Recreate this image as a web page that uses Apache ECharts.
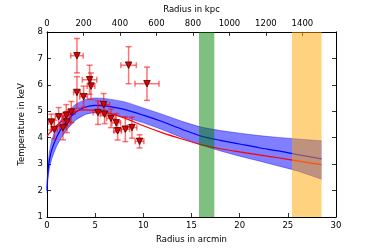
<!DOCTYPE html>
<html><head><meta charset="utf-8">
<script src="https://cdn.jsdelivr.net/npm/echarts@6/dist/echarts.min.js"></script>
<style>html,body{margin:0;padding:0;background:#fff}#c{width:374px;height:249px}</style>
</head><body><div id="c"></div>
<script>
// data points (arcmin, keV) with errors
const ptR    = [0.45,0.76,1.21,1.66,2.0,2.07,2.52,3.11,3.11,3.80,4.42,4.57,5.29,5.88,5.98,6.64,7.19,7.33,8.13,8.82,8.47,9.61,10.38];
const ptT    = [4.59,4.31,4.79,4.37,4.85,4.59,4.97,7.10,5.71,5.55,6.19,5.95,4.95,5.25,4.89,4.73,4.56,4.26,4.32,4.38,6.74,3.86,6.04];
const ptRErr = [0.3,0.3,0.35,0.35,0.35,0.35,0.4,0.65,0.35,0.4,0.75,0.4,0.5,0.6,0.45,0.45,0.45,0.4,0.45,0.5,0.8,0.45,1.25];
const ptTErr = [0.3,0.35,0.35,0.45,0.4,0.4,0.4,0.65,0.6,0.4,0.55,0.5,0.45,0.42,0.36,0.35,0.35,0.35,0.47,0.4,0.7,0.25,0.63];
// model curves
const modelR = [0,0.1,0.25,0.5,1,1.5,2,3,4,5,6,8,10,12,14,16,18,20,22,24,26,28.5];
const blueT  = [2.0,2.7,3.15,3.55,4.02,4.35,4.6,4.97,5.16,5.22,5.2,5.07,4.85,4.6,4.32,4.06,3.9,3.76,3.62,3.5,3.36,3.20];
const bandHi = [2.1,2.95,3.45,3.92,4.38,4.7,4.92,5.27,5.44,5.5,5.48,5.36,5.12,4.88,4.62,4.4,4.27,4.17,4.08,4.01,3.95,3.88];
const bandLo = [1.9,2.45,2.85,3.2,3.68,4.0,4.28,4.67,4.88,4.95,4.93,4.78,4.56,4.3,4.0,3.72,3.5,3.3,3.12,2.93,2.74,2.43];
const redT   = [4.05,4.1,4.17,4.27,4.45,4.62,4.78,5.0,5.05,5.03,4.97,4.75,4.45,4.18,3.95,3.74,3.58,3.46,3.35,3.24,3.12,2.98];
// vertical spans (arcmin)
const spanGreen = [15.78, 17.37];
const spanOrange = [25.43, 28.5];
// axes
const kpcPerArcmin = 52.8;
const xMax = 30, yMin = 1, yMax = 8;

const F = 'DejaVu Sans', FS = 8.5;
const pair = (xs, ys) => xs.map((x,i)=>[x, ys[i]]);
const errData = ptR.map((r,i)=>[r, ptT[i], ptRErr[i], ptTErr[i]]);
const bandData = modelR.map((r,i)=>[r, bandLo[i], bandHi[i]]);

const chart = echarts.init(document.getElementById('c'), null, {renderer:'canvas'});
const axisCommon = {
  axisLine:{show:true, onZero:false, lineStyle:{color:'#000', width:1}},
  axisTick:{show:true, inside:true, length:4, lineStyle:{color:'#000', width:0.8}},
  splitLine:{show:false},
  axisLabel:{color:'#000', fontFamily:F, fontSize:FS, margin:4},
  nameTextStyle:{color:'#000', fontFamily:F, fontSize:FS}
};
const errStyle = {stroke:'rgba(255,0,0,0.55)', lineWidth:1.5};
chart.setOption({
  animation:false,
  grid:{left:47, right:38, top:24, bottom:32},
  xAxis:[
    Object.assign({}, axisCommon, {type:'value', min:0, max:xMax, interval:5, position:'bottom',
      name:'Radius in arcmin', nameLocation:'middle', nameGap:15}),
    Object.assign({}, axisCommon, {type:'value', min:0, max:xMax*kpcPerArcmin, interval:200, position:'top',
      name:'Radius in kpc', nameLocation:'middle', nameGap:14,
      axisLabel:Object.assign({}, axisCommon.axisLabel, {formatter:v=> (Math.abs(v/200-Math.round(v/200))<1e-6)? String(v):''})})
  ],
  yAxis:[
    Object.assign({}, axisCommon, {type:'value', min:yMin, max:yMax, interval:1, position:'left',
      name:'Temperature in keV', nameLocation:'middle', nameGap:12}),
    Object.assign({}, axisCommon, {type:'value', min:yMin, max:yMax, interval:1, position:'right',
      axisLabel:{show:false}})
  ],
  series:[
    {type:'custom', data:[0], z:1, clip:true,
      renderItem:(params, api)=>{
        const up = bandData.map(d=>api.coord([d[0], d[2]]));
        const lo = bandData.map(d=>api.coord([d[0], d[1]])).reverse();
        return {type:'polygon', shape:{points:up.concat(lo)}, style:{fill:'rgba(0,0,255,0.5)'}};
      }},
    {type:'line', data:pair(modelR, bandLo), symbol:'none', smooth:0.3,
      lineStyle:{color:'rgba(0,0,255,0.5)', width:0.8}, z:1},
    {type:'line', data:pair(modelR, bandHi), symbol:'none', smooth:0.3,
      lineStyle:{color:'rgba(0,0,255,0.5)', width:0.8}, z:1},
    {type:'line', data:pair(modelR, blueT), symbol:'none', smooth:0.3,
      lineStyle:{color:'#0000ff', width:1.2}, z:2},
    {type:'line', data:pair(modelR, redT), symbol:'none', smooth:0.3,
      lineStyle:{color:'#ff0000', width:1.2}, z:2},
    {type:'custom', data:errData, z:3,
      renderItem:(params, api)=>{
        const x=api.value(0), y=api.value(1), xe=api.value(2), ye=api.value(3);
        const l=api.coord([x-xe,y]), r=api.coord([x+xe,y]), t=api.coord([x,y+ye]), b=api.coord([x,y-ye]);
        const c=3;
        const L=(x1,y1,x2,y2)=>({type:'line', shape:{x1,y1,x2,y2}, style:errStyle});
        return {type:'group', children:[
          L(l[0],l[1],r[0],r[1]), L(t[0],t[1],b[0],b[1]),
          L(l[0],l[1]-c,l[0],l[1]+c), L(r[0],r[1]-c,r[0],r[1]+c),
          L(t[0]-c,t[1],t[0]+c,t[1]), L(b[0]-c,b[1],b[0]+c,b[1])
        ]};
      }},
    {type:'scatter', data:pair(ptR, ptT), symbol:'triangle', symbolRotate:180, symbolSize:6.5,
      itemStyle:{color:'#e00000', borderColor:'#400000', borderWidth:0.8, opacity:1}, z:4},
    {type:'custom', data:[[spanGreen[0], spanGreen[1], 0], [spanOrange[0], spanOrange[1], 1]], z:5,
      renderItem:(params, api)=>{
        const p0=api.coord([api.value(0), yMax]), p1=api.coord([api.value(1), yMin]);
        const col = api.value(2)===0 ? 'rgba(0,128,0,0.5)' : 'rgba(255,165,0,0.5)';
        return {type:'rect', shape:{x:p0[0], y:p0[1], width:p1[0]-p0[0], height:p1[1]-p0[1]}, style:{fill:col}};
      }}
  ]
});
</script></body></html>
